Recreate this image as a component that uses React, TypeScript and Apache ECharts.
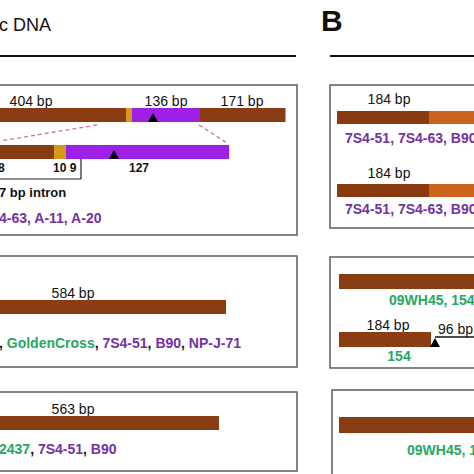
import React, { useEffect, useRef } from "react";
import * as echarts from "echarts";

// ---- data (segment lengths in bp) ----
const fullGeneA1 = [404, 12, 136, 171]; // exon / intron / exon / exon
const fullGeneA1Colors = [0, 1, 2, 0];
const zoomGeneA1 = [60, 10, 136]; // zoomed part (8 | 10 9 | 127)
const zoomGeneA1Colors = [0, 1, 2];
const geneA2 = [584];
const geneA3 = [563];
const geneB1 = [184, 220];
const geneB1Colors = [3, 4];
const geneB2a = [300];
const geneB2b = [184];
const geneB3 = [300];
const insertionB2 = 96;

const sizeLabelsA1 = ["404 bp", "136 bp", "171 bp"];
const zoomLabelsA1 = ["8", "10 9", "127"];

// ---- styles ----
const FONT = "Liberation Sans, Arial, sans-serif";
const COLORS = ["#8a3d12", "#d49a1e", "#9e1fe6", "#8a3a10", "#c9631d"];
const PURPLE = "#7232a4";
const GREEN = "#25a865";
const BORDER = "#5c5c5c";
const PX_PER_BP = 0.5;

type Seg = [number, number, number, number, number];

function buildRow(start: number, lengths: number[], colors: number[], y0: number, y1: number, zoom = 1): Seg[] {
  const out: Seg[] = [];
  let x = start;
  lengths.forEach((len, i) => {
    const w = len * zoom;
    out.push([x, x + w, y0, y1, colors[i]]);
    x += w;
  });
  return out;
}

export default function App() {
  const ref = useRef<HTMLDivElement>(null);
  useEffect(() => {
    if (!ref.current) return;
    const chart = echarts.init(ref.current, null, { renderer: "svg" });
    const zoomFactor = 2.4;
    const segs: Seg[] = [
      ...buildRow(252 - fullGeneA1[0], fullGeneA1, fullGeneA1Colors, 108, 122),
      ...buildRow(108 - zoomGeneA1[0] * zoomFactor, zoomGeneA1, zoomGeneA1Colors, 145, 159, zoomFactor),
      ...buildRow(452 - geneA2[0], geneA2, [0], 300, 314),
      ...buildRow(438 - geneA3[0], geneA3, [0], 416, 430),
      ...buildRow(674, geneB1, geneB1Colors, 111, 124),
      ...buildRow(674, geneB1, geneB1Colors, 184, 197),
      ...buildRow(678, geneB2a, [0], 274, 289),
      ...buildRow(678, geneB2b, [0], 332, 347),
      ...buildRow(678, geneB3, [0], 417, 433),
    ];
    const markers = [
      [306, 122],
      [228, 159],
      [678 + geneB2b[0] + 8, 347],
    ];
    const W = 474;
    const textEl = (text: string, x: number, y: number, opts: any = {}) => ({
      type: "text",
      x,
      y,
      style: {
        text,
        font: `${opts.weight || "normal"} ${opts.size || 14}px ${FONT}`,
        fill: opts.color || "#111",
        textAlign: opts.align || "center",
        textVerticalAlign: "middle",
        rich: opts.rich,
      },
    });
    const rich = (size: number) => ({
      k: { fill: "#111", font: `bold ${size}px ${FONT}` },
      g: { fill: GREEN, font: `bold ${size}px ${FONT}` },
      p: { fill: PURPLE, font: `bold ${size}px ${FONT}` },
    });
    const box = (x: number, y: number, w: number, h: number) => ({
      type: "rect",
      shape: { x, y, width: w, height: h },
      style: { fill: "none", stroke: BORDER, lineWidth: 1.5 },
    });
    const line = (x1: number, y1: number, x2: number, y2: number, style: any) => ({
      type: "line",
      shape: { x1, y1, x2, y2 },
      style,
    });
    chart.setOption({
      animation: false,
      grid: { left: 0, right: 0, top: 0, bottom: 0 },
      xAxis: { type: "value", min: 0, max: W / PX_PER_BP, show: false },
      yAxis: { type: "value", min: 0, max: W, inverse: true, show: false },
      series: [
        {
          type: "custom",
          data: segs,
          encode: { x: [0, 1], y: [2, 3] },
          renderItem: (_p: any, api: any) => {
            const a = api.coord([api.value(0), api.value(2)]);
            const b = api.coord([api.value(1), api.value(3)]);
            return {
              type: "rect",
              shape: { x: a[0], y: a[1], width: b[0] - a[0], height: b[1] - a[1] },
              style: { fill: COLORS[api.value(4)] },
            };
          },
        },
        {
          type: "custom",
          data: markers,
          encode: { x: 0, y: 1 },
          renderItem: (_p: any, api: any) => {
            const p = api.coord([api.value(0), api.value(1)]);
            return {
              type: "polygon",
              shape: { points: [[p[0] - 5, p[1]], [p[0] + 5, p[1]], [p[0], p[1] - 9]] },
              style: { fill: "#000" },
            };
          },
        },
      ],
      graphic: [
        textEl("c DNA", -1, 25, { size: 18, align: "left" }),
        line(0, 56, 296, 56, { stroke: "#111", lineWidth: 2 }),
        textEl("B", 321, 20, { size: 30, weight: "bold", align: "left" }),
        line(330, 56, 480, 56, { stroke: "#111", lineWidth: 2 }),
        // Box A1
        box(-5, 85, 302, 150),
        textEl(sizeLabelsA1[0], 31, 101),
        textEl(sizeLabelsA1[1], 166, 101),
        textEl(sizeLabelsA1[2], 242, 101),
        line(97, 125, 0, 141, { stroke: "#e0707a", lineWidth: 1.3, lineDash: [4, 3] }),
        line(199, 125, 227, 143, { stroke: "#e0707a", lineWidth: 1.3, lineDash: [4, 3] }),
        line(81, 145, 81, 179, { stroke: "#222", lineWidth: 1.2 }),
        line(-2, 179, 81, 179, { stroke: "#222", lineWidth: 1.2 }),
        textEl(zoomLabelsA1[0], -2, 168, { size: 12, weight: "bold", align: "left" }),
        textEl(zoomLabelsA1[1], 53, 168, { size: 12, weight: "bold", align: "left" }),
        textEl(zoomLabelsA1[2], 139, 168, { size: 12, weight: "bold" }),
        textEl("7 bp intron", -1, 192, { size: 13, weight: "bold", align: "left" }),
        textEl("4-63, A-11, A-20", -1, 218, { size: 14, weight: "bold", align: "left", color: PURPLE }),
        // Box A2
        box(-5, 256, 302, 111),
        textEl(`${geneA2[0]} bp`, 73, 293),
        textEl("{k|, }{g|GoldenCross}{k|, }{p|7S4-51}{k|, }{p|B90}{k|, }{p|NP-J-71}", -1, 343, { align: "left", rich: rich(14) }),
        // Box A3
        box(-5, 392, 302, 79),
        textEl(`${geneA3[0]} bp`, 73, 409),
        textEl("{g|2437}{k|, }{p|7S4-51}{k|, }{p|B90}", -1, 449, { align: "left", rich: rich(14) }),
        // Box B1
        box(330, 85, 160, 143),
        textEl(`${geneB1[0]} bp`, 389, 99),
        textEl("{p|7S4-51, 7S4-63, B90}", 345, 138, { align: "left", rich: rich(14) }),
        textEl(`${geneB1[0]} bp`, 389, 173),
        textEl("{p|7S4-51, 7S4-63, B90}", 345, 209, { align: "left", rich: rich(14) }),
        // Box B2
        box(330, 257, 160, 111),
        textEl("{g|09WH45, 154}", 389, 300, { align: "left", rich: rich(14) }),
        textEl(`${geneB2b[0]} bp`, 388, 325),
        line(435, 337, 480, 337, { stroke: "#111", lineWidth: 1.3 }),
        textEl(`${insertionB2} bp`, 438, 329, { align: "left" }),
        textEl("{g|154}", 399, 356, { rich: rich(14) }),
        // Box B3
        box(332, 390, 160, 100),
        textEl("{g|09WH45, 154}", 407, 450, { align: "left", rich: rich(14) }),
      ],
    });
    return () => chart.dispose();
  }, []);
  return <div ref={ref} style={{ position: "fixed", left: 0, top: 0, width: 474, height: 474, background: "#fff" }} />;
}
